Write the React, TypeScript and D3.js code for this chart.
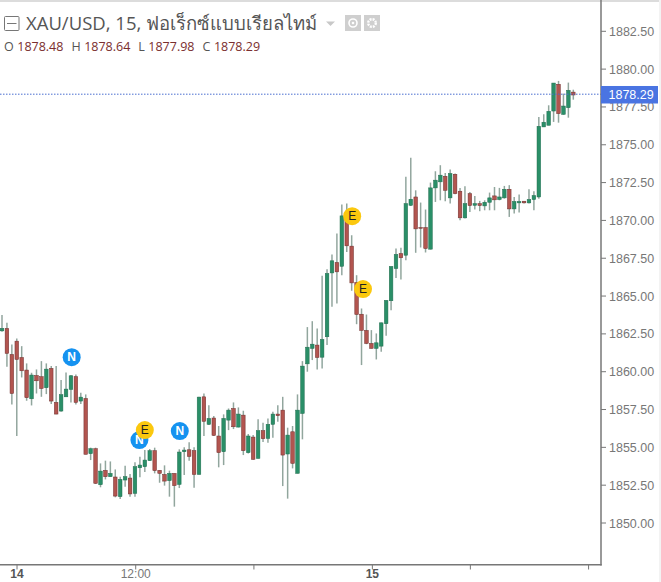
import React, { useEffect, useRef } from 'react';
import * as d3 from 'd3';

const opens = [
  1862.70, 1862.86, 1861.14, 1862.02, 1860.94, 1860.11, 1858.21, 1859.75, 1859.67, 1858.94,
  1860.22, 1857.97, 1857.40, 1858.34, 1858.83, 1859.67, 1858.06, 1858.23, 1854.58, 1854.91,
  1852.53, 1853.48, 1853.06, 1853.04, 1851.74, 1852.84, 1852.97, 1851.96, 1853.65, 1853.72,
  1854.12, 1854.78, 1853.48, 1853.21, 1852.80, 1853.28, 1852.55, 1854.71, 1854.84, 1854.78,
  1853.21, 1858.34, 1856.52, 1856.94, 1855.75, 1854.71, 1856.80, 1857.57, 1856.34, 1857.13,
  1854.65, 1855.68, 1854.27, 1856.10, 1855.59, 1856.52, 1857.20, 1857.46, 1854.56, 1856.03,
  1853.28, 1857.24, 1860.52, 1861.54, 1861.76, 1860.96, 1862.31, 1866.53, 1867.22, 1866.97,
  1870.23, 1868.30, 1865.90, 1863.80, 1862.73, 1861.87, 1861.54, 1861.69, 1863.17, 1864.69,
  1866.82, 1867.81, 1867.70, 1871.00, 1871.55, 1869.53, 1869.53, 1868.10, 1872.15, 1872.55,
  1872.92, 1871.49, 1873.05, 1871.93, 1870.17, 1871.77, 1871.00, 1871.11, 1870.96, 1871.20,
  1871.62, 1871.38, 1871.49, 1872.06, 1870.76, 1871.16, 1871.27, 1871.16, 1871.38, 1871.55,
  1876.18, 1876.29, 1877.23, 1879.00, 1877.01, 1877.45, 1878.48,
];

const highs = [
  1863.74, 1863.23, 1861.80, 1862.20, 1861.69, 1860.55, 1859.93, 1860.15, 1860.70, 1860.55,
  1860.37, 1860.37, 1859.45, 1859.95, 1859.78, 1859.82, 1858.61, 1858.50, 1854.98, 1854.98,
  1853.94, 1854.12, 1854.07, 1853.54, 1853.06, 1853.79, 1853.24, 1854.01, 1854.38, 1854.82,
  1854.89, 1854.98, 1853.50, 1853.81, 1853.46, 1853.28, 1854.87, 1855.00, 1855.33, 1855.00,
  1858.34, 1858.56, 1857.79, 1857.07, 1856.41, 1857.18, 1857.57, 1857.97, 1857.64, 1857.42,
  1855.88, 1855.81, 1856.85, 1856.63, 1856.91, 1857.35, 1857.79, 1858.34, 1856.30, 1856.41,
  1858.50, 1860.70, 1862.95, 1863.34, 1862.86, 1866.34, 1866.78, 1867.75, 1869.13, 1871.05,
  1871.11, 1869.02, 1866.38, 1864.18, 1863.78, 1862.75, 1862.53, 1863.25, 1864.73, 1866.97,
  1868.14, 1868.19, 1872.88, 1874.15, 1871.99, 1871.18, 1870.72, 1872.50, 1873.25, 1873.65,
  1873.14, 1873.36, 1873.10, 1872.15, 1872.26, 1871.88, 1871.62, 1871.29, 1871.33, 1871.84,
  1872.21, 1872.15, 1872.28, 1872.33, 1871.55, 1871.71, 1871.27, 1872.06, 1871.93, 1876.84,
  1877.01, 1877.61, 1879.08, 1879.22, 1878.38, 1879.11, 1878.64,
];

const lows = [
  1862.64, 1860.33, 1857.84, 1855.75, 1859.62, 1858.08, 1857.77, 1858.56, 1858.34, 1858.52,
  1857.86, 1857.18, 1857.35, 1858.34, 1857.97, 1857.84, 1857.86, 1854.54, 1854.16, 1852.58,
  1852.36, 1852.88, 1853.06, 1851.70, 1851.59, 1852.40, 1851.74, 1851.74, 1853.02, 1853.37,
  1854.12, 1853.28, 1852.66, 1852.47, 1851.74, 1851.08, 1852.31, 1853.17, 1854.12, 1852.33,
  1853.21, 1855.75, 1856.47, 1855.75, 1853.68, 1853.83, 1856.14, 1856.21, 1856.32, 1854.49,
  1854.60, 1854.18, 1854.27, 1855.35, 1855.31, 1855.64, 1856.69, 1852.44, 1851.61, 1853.61,
  1853.28, 1855.53, 1860.00, 1860.77, 1860.15, 1860.22, 1861.76, 1864.29, 1864.51, 1866.38,
  1867.92, 1865.35, 1863.14, 1860.44, 1861.82, 1861.54, 1860.81, 1861.32, 1862.37, 1864.07,
  1866.20, 1866.09, 1867.37, 1870.96, 1867.86, 1868.21, 1867.88, 1868.08, 1871.22, 1871.33,
  1871.27, 1871.11, 1871.73, 1870.01, 1870.12, 1870.56, 1870.72, 1870.61, 1870.67, 1870.67,
  1870.67, 1871.33, 1871.44, 1870.23, 1870.45, 1870.52, 1871.11, 1871.11, 1870.67, 1871.44,
  1876.18, 1876.29, 1876.51, 1876.46, 1876.99, 1876.79, 1877.98,
];

const closes = [
  1862.86, 1861.21, 1858.56, 1860.81, 1860.06, 1858.28, 1859.78, 1859.40, 1858.89, 1860.17,
  1858.06, 1857.20, 1858.48, 1858.85, 1859.73, 1857.97, 1858.32, 1854.54, 1854.91, 1852.62,
  1853.43, 1853.06, 1853.28, 1851.78, 1852.88, 1853.06, 1851.92, 1853.72, 1853.83, 1854.16,
  1854.78, 1853.46, 1853.28, 1852.77, 1853.28, 1852.47, 1854.69, 1854.82, 1854.40, 1853.21,
  1858.32, 1856.72, 1856.91, 1855.79, 1854.65, 1856.91, 1857.46, 1856.36, 1857.20, 1854.78,
  1855.75, 1854.21, 1856.10, 1855.57, 1856.52, 1857.20, 1857.09, 1854.49, 1855.81, 1853.94,
  1857.46, 1860.37, 1861.62, 1861.82, 1860.94, 1862.13, 1866.49, 1867.33, 1866.60, 1870.30,
  1868.32, 1865.87, 1863.78, 1862.73, 1861.87, 1861.54, 1861.91, 1863.23, 1864.71, 1866.95,
  1867.75, 1867.53, 1871.11, 1871.40, 1869.44, 1869.48, 1868.14, 1872.15, 1872.66, 1872.99,
  1871.99, 1873.10, 1871.77, 1870.17, 1871.11, 1870.98, 1871.11, 1870.98, 1871.20, 1871.49,
  1871.36, 1871.55, 1872.06, 1870.76, 1871.25, 1871.25, 1871.16, 1871.38, 1871.64, 1876.22,
  1876.49, 1877.21, 1879.08, 1877.06, 1877.56, 1878.60, 1878.29,
];

const priceTicks = d3.range(0, 14).map((i) => 1850 + i * 2.5);
const timeTicks = [3.05, 27.15, 51.15, 75.2, 95.1, 119.1];
const timeLabels = ['14', '12:00', '', '15', '', ''];

const markerLetters = ['N', 'N', 'N', 'E', 'E', 'E'];
const markerBars = [14.15, 27.9, 36.1, 29, 71.1, 73.3];
const markerPrices = [1860.96, 1855.48, 1856.08, 1856.14, 1870.28, 1865.46];

const lastPrice = 1878.29;
const legendNames = ['O', 'H', 'L', 'C'];
const legendValues = ['1878.48', '1878.64', '1877.98', '1878.29'];

const UP = '#2b8f68';
const DOWN = '#b25450';
const AXIS = '#777';

export default function App() {
  const ref = useRef<SVGSVGElement>(null);

  useEffect(() => {
    const x = d3.scaleLinear().domain([0, 116]).range([2, 573.3]);
    const y = d3.scaleLinear().domain([1850, 1882.5]).range([523, 31.3]);

    const svg = d3.select(ref.current);
    svg.selectAll('*').remove();

    const blur = svg.append('defs').append('filter').attr('id', 'soft');
    blur.append('feGaussianBlur').attr('stdDeviation', 0.4);

    svg.append('rect').attr('width', 661).attr('height', 2).attr('fill', '#dcdcdc');
    svg.append('rect').attr('x', 659).attr('width', 2).attr('height', 582).attr('fill', '#f3f3f3');

    const bars = opens.map((o, i) => ({ i, o, h: highs[i], l: lows[i], c: closes[i] }));
    const chart = svg.append('g').attr('filter', 'url(#soft)');

    chart.selectAll('.wick')
      .data(bars)
      .enter()
      .append('line')
      .attr('x1', (d) => x(d.i))
      .attr('x2', (d) => x(d.i))
      .attr('y1', (d) => y(d.h))
      .attr('y2', (d) => y(d.l))
      .attr('stroke', '#4f6f63')
      .attr('stroke-opacity', 0.62)
      .attr('stroke-width', 1.5);

    chart.selectAll('.body')
      .data(bars)
      .enter()
      .append('rect')
      .attr('x', (d) => x(d.i) - 1.8)
      .attr('y', (d) => y(Math.max(d.o, d.c)))
      .attr('width', 3.6)
      .attr('height', (d) => Math.max(0.8, Math.abs(y(d.o) - y(d.c))))
      .attr('fill', (d) => (d.c >= d.o ? UP : DOWN))
      .attr('stroke', (d) => (d.c >= d.o ? '#1f6d4e' : '#6e2f2c'))
      .attr('stroke-width', 0.5);

    // last price line
    svg.append('line')
      .attr('x1', 0)
      .attr('x2', 601)
      .attr('y1', y(lastPrice) - 0.8)
      .attr('y2', y(lastPrice) - 0.8)
      .attr('stroke', '#4a6fd0')
      .attr('stroke-width', 1)
      .attr('stroke-dasharray', '1.5 1.5');

    // event markers
    const marks = svg.selectAll('.marker')
      .data(markerLetters)
      .enter()
      .append('g')
      .attr('transform', (d, i) => `translate(${x(markerBars[i])},${y(markerPrices[i])})`);
    marks.append('circle')
      .attr('r', 9)
      .attr('fill', (d) => (d === 'N' ? '#1592f0' : '#fbc80e'));
    marks.append('text')
      .attr('text-anchor', 'middle')
      .attr('y', 4.3)
      .attr('font-family', 'Liberation Sans')
      .attr('font-size', 12)
      .attr('font-weight', (d) => (d === 'N' ? 700 : 400))
      .attr('fill', (d) => (d === 'N' ? '#fff' : '#222'))
      .text((d) => d);

    // price axis
    svg.append('line')
      .attr('x1', 601).attr('x2', 601)
      .attr('y1', 0).attr('y2', 565.5)
      .attr('stroke', AXIS).attr('stroke-width', 1.5);

    const priceAxis = svg.append('g').selectAll('.tick')
      .data(priceTicks)
      .enter()
      .append('g')
      .attr('transform', (d) => `translate(601,${y(d)})`);
    priceAxis.append('line').attr('x2', 5).attr('stroke', AXIS);
    priceAxis.append('text')
      .attr('x', 8)
      .attr('y', 4.5)
      .attr('font-family', 'Liberation Sans')
      .attr('font-size', 12.5)
      .attr('fill', AXIS)
      .text((d) => d.toFixed(2));

    svg.append('rect')
      .attr('x', 601)
      .attr('y', y(lastPrice) - 9)
      .attr('width', 57)
      .attr('height', 17.5)
      .attr('fill', '#4a74e2');
    svg.append('text')
      .attr('x', 608.5)
      .attr('y', y(lastPrice) + 4.2)
      .attr('font-family', 'Liberation Sans')
      .attr('font-size', 12.5)
      .attr('font-weight', 500)
      .attr('fill', '#fff')
      .text(lastPrice.toFixed(2));

    // time axis
    svg.append('line')
      .attr('x1', 0).attr('x2', 601.7)
      .attr('y1', 564.8).attr('y2', 564.8)
      .attr('stroke', AXIS).attr('stroke-width', 1.5);

    const timeAxis = svg.append('g').selectAll('.tick')
      .data(timeTicks)
      .enter()
      .append('g')
      .attr('transform', (d) => `translate(${x(d)},565)`);
    timeAxis.append('line').attr('y2', 4.5).attr('stroke', AXIS);
    timeAxis.append('text')
      .attr('text-anchor', 'middle')
      .attr('y', 13)
      .attr('font-family', 'Liberation Sans')
      .attr('font-size', 12)
      .attr('font-weight', (d, i) => (timeLabels[i] === '12:00' ? 400 : 700))
      .attr('fill', (d, i) => (timeLabels[i] === '12:00' ? '#777' : '#555'))
      .text((d, i) => timeLabels[i]);

    // header
    svg.append('rect')
      .attr('x', 4.5).attr('y', 16.5)
      .attr('width', 14.5).attr('height', 14)
      .attr('rx', 1)
      .attr('fill', 'none').attr('stroke', '#777');
    svg.append('line')
      .attr('x1', 7).attr('x2', 16.5)
      .attr('y1', 23.5).attr('y2', 23.5)
      .attr('stroke', '#777');
    svg.append('text')
      .attr('x', 26)
      .attr('y', 30)
      .attr('font-family', 'Open Sans, Noto Sans, sans-serif')
      .attr('font-size', 18.5)
      .attr('fill', '#555')
      .text('XAU/USD, 15, ฟอเร็กซ์แบบเรียลไทม์');
    svg.append('path')
      .attr('d', d3.line()([[326, 21.5], [335, 21.5], [330.5, 26]]) + 'Z')
      .attr('fill', '#c8c8c8');

    svg.append('rect').attr('x', 345).attr('y', 15).attr('width', 16).attr('height', 16).attr('fill', '#cfcfcf');
    svg.append('circle').attr('cx', 353).attr('cy', 23).attr('r', 4).attr('fill', 'none').attr('stroke', '#fff').attr('stroke-width', 1.6);
    svg.append('circle').attr('cx', 353).attr('cy', 23).attr('r', 1.3).attr('fill', '#fff');
    svg.append('rect').attr('x', 364).attr('y', 15).attr('width', 16).attr('height', 16).attr('fill', '#cfcfcf');
    svg.append('circle').attr('cx', 372).attr('cy', 23).attr('r', 3.8).attr('fill', 'none').attr('stroke', '#fff').attr('stroke-width', 2.4).attr('stroke-dasharray', '2 1');

    const legend = svg.append('text')
      .attr('x', 4)
      .attr('y', 51)
      .attr('font-family', 'Open Sans, Noto Sans, sans-serif')
      .attr('font-size', 12.5);
    legendNames.forEach((name, i) => {
      legend.append('tspan').attr('fill', '#555').attr('dx', i ? 8 : 0).text(name);
      legend.append('tspan').attr('fill', '#7a2e2e').attr('dx', 3.5).text(legendValues[i]);
    });
  }, []);

  return (
    <svg
      ref={ref}
      width={661}
      height={582}
      style={{ position: 'fixed', left: 0, top: 0, background: '#fff', display: 'block' }}
    />
  );
}
